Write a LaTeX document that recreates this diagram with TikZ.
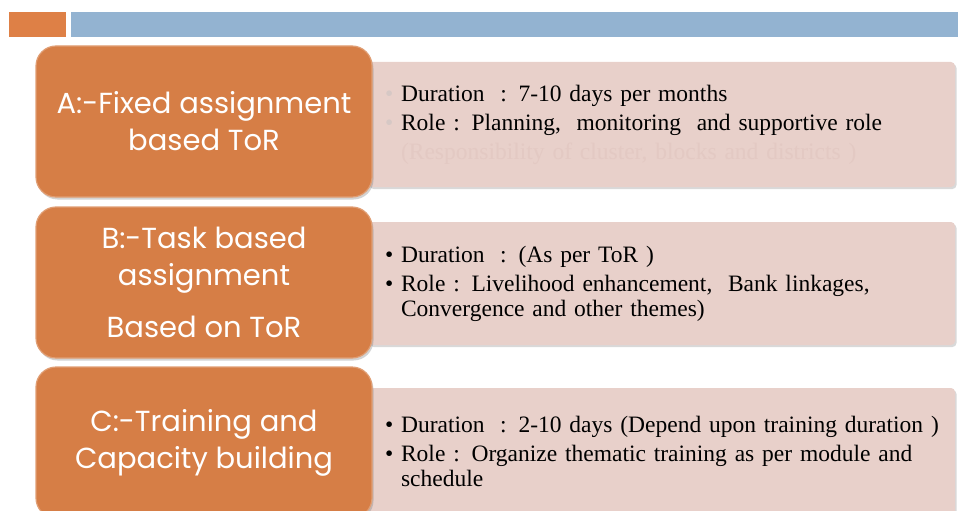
\documentclass[tikz,border=0pt]{standalone}
\usepackage{fontspec}
\setmainfont{Liberation Serif}
\newfontfamily\boxfont{Poppins}
\usetikzlibrary{positioning, shadows}

\definecolor{barorange}{RGB}{222,128,70}
\definecolor{barblue}{RGB}{147,179,209}
\definecolor{taskorange}{RGB}{214,126,70}
\definecolor{rolepink}{RGB}{232,208,202}
\definecolor{fadegray}{RGB}{214,200,197}
\definecolor{fadepink}{RGB}{227,201,195}

\newcommand\tightwords{\fontdimen2\font=0.19em\relax}

\begin{document}
\begin{tikzpicture}[x=1pt, y=-1pt,
					bar/.style={rectangle, inner sep=0pt, minimum height=25pt},
					task/.style={rectangle, rounded corners=20pt, fill=taskorange,
						draw=taskorange!75!white, line width=1.2pt,
						minimum width=336pt, minimum height=151pt,
						text=white, align=center,
						font=\boxfont\fontsize{29}{37}\selectfont,
						drop shadow={shadow xshift=1.5pt, shadow yshift=-2.5pt, opacity=.35}},
					role/.style={rectangle, rounded corners=4pt, fill=rolepink,
						inner xsep=17pt, text width=553pt, align=left,
						font=\fontsize{23.5}{29}\selectfont\tightwords,
						drop shadow={shadow xshift=1.5pt, shadow yshift=-2pt, opacity=.3}}]

	\clip (0,0) rectangle (958,511);

	% header bars
	\node[bar, fill=barorange, minimum width=57pt] (tab) at (37.5,24.5) {};
	\node[bar, fill=barblue, minimum width=887pt] (strip) at (514.5,24.5) {};

	% right hand boxes
	\node[role, minimum height=125pt] (roleA) at (661.5,124.5)
		{{\color{fadegray}\textbullet}\ Duration~\ : 7-10 days per months\\
		 {\color{fadegray}\textbullet}\ Role : Planning,~ monitoring~ and supportive role\\
		 {\color{fadepink}\phantom{\textbullet\ }(Responsibility of cluster, blocks and districts )}};
	\node[role, minimum height=123pt] (roleB) at (661.5,283.5)
		{\textbullet\ Duration~ : (As per ToR )\\
		 \textbullet\ Role : Livelihood enhancement,~ Bank linkages,\\[-4pt]
		 \phantom{\textbullet\ }Convergence and other themes)};
	\node[role, minimum height=127pt] (roleC) at (661.5,451.5)
		{\mbox{\textbullet\ Duration~\ : 2-10 days (Depend upon training duration~)}\\
		 \textbullet\ Role : Organize thematic training as per module and\\[-4pt]
		 \phantom{\textbullet\ }schedule};

	% left hand boxes
	\node[task] (taskA) at (204,121.5) {A:-Fixed assignment\\based ToR};
	\node[task] (taskB) at (204,282.5) {B:-Task based\\assignment\\[15pt]Based on ToR};
	\node[task] (taskC) at (204,442.5) {C:-Training and\\Capacity building};
\end{tikzpicture}
\end{document}
